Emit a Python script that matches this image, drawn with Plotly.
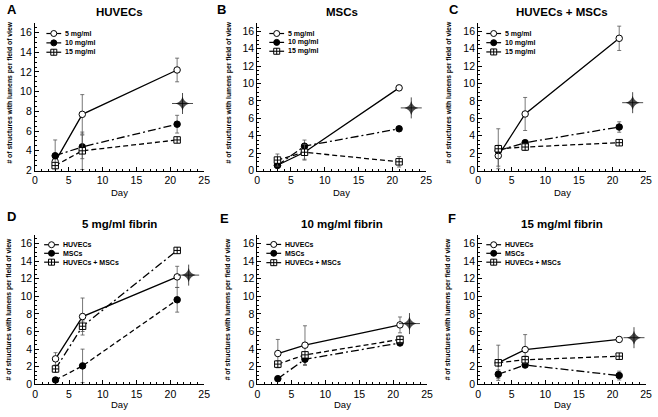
import plotly.graph_objects as go

# ---------------- data ----------------
days = [3, 7, 21]

# Panel A: HUVECs
a_5 = [2.9, 7.7, 12.2]; a_5_err = [0.5, 2.0, 1.2]
a_10 = [3.5, 4.4, 6.7]; a_10_err = [1.6, 1.2, 0.9]
a_15 = [2.5, 4.0, 5.1]; a_15_err = [0.3, 1.9, 0.2]
# Panel B: MSCs
b_5 = [0.6, 2.1, 9.5]; b_5_err = [0.2, 0.8, 0.3]
b_10 = [0.6, 2.8, 4.8]; b_10_err = [0.2, 0.7, 0.2]
b_15 = [1.2, 2.1, 1.0]; b_15_err = [0.7, 0.9, 0.6]
# Panel C: HUVECs + MSCs
c_5 = [1.7, 6.5, 15.2]; c_5_err = [1.2, 1.9, 1.4]
c_10 = [2.3, 3.2, 5.0]; c_10_err = [0.3, 0.3, 0.6]
c_15 = [2.5, 2.7, 3.2]; c_15_err = [2.3, 0.4, 0.2]
# Panel D: 5 mg/ml fibrin
d_h = [2.9, 7.7, 12.2]; d_h_err = [0.7, 2.1, 1.2]
d_m = [0.5, 2.1, 9.6]; d_m_err = [0.1, 1.9, 1.4]
d_hm = [1.75, 6.6, 15.2]; d_hm_err = [0.4, 0.6, 0.3]
# Panel E: 10 mg/ml fibrin
e_h = [3.5, 4.45, 6.75]; e_h_err = [1.6, 2.2, 0.9]
e_m = [0.65, 2.85, 4.7]; e_m_err = [0.1, 0.7, 0.3]
e_hm = [2.3, 3.35, 5.1]; e_hm_err = [0.4, 0.3, 0.4]
# Panel F: 15 mg/ml fibrin
f_h = [2.45, 3.95, 5.1]; f_h_err = [2.0, 1.7, 0.15]
f_m = [1.15, 2.2, 1.0]; f_m_err = [0.5, 0.3, 0.5]
f_hm = [2.45, 2.8, 3.2]; f_hm_err = [0.3, 0.4, 0.3]

# significance stars (x, y) per panel
star_x = [21.8, 22.8, 23.0, 22.7, 22.4, 23.2]
star_y = [8.8, 7.2, 7.8, 12.4, 6.9, 5.3]

conc_names = ["5 mg/ml", "10 mg/ml", "15 mg/ml"]
cell_names = ["HUVECs", "MSCs", "HUVECs + MSCs"]
panel_letters = ["A", "B", "C", "D", "E", "F"]
panel_titles = ["HUVECs", "MSCs", "HUVECs + MSCs",
                "5 mg/ml fibrin", "10 mg/ml fibrin", "15 mg/ml fibrin"]
y_title = "# of structures with lumens per field of view"
x_title = "Day"
x_ticks = [0, 5, 10, 15, 20, 25]

# ---------------- layout helpers ----------------
W, H = 658, 417
FONT = "Liberation Sans, Arial, sans-serif"
DASH = "5px,3px"
DASHDOT = "8px,3px,2px,3px"

panels = [
    dict(series=[(a_5, a_5_err), (a_10, a_10_err), (a_15, a_15_err)], names=conc_names,
         dashes=["solid", DASHDOT, DASH], x0=32.3, x1=204, top=23, bot=173, ymin=2),
    dict(series=[(b_5, b_5_err), (b_10, b_10_err), (b_15, b_15_err)], names=conc_names,
         dashes=["solid", DASHDOT, DASH], x0=257.7, x1=429, top=23, bot=173, ymin=0),
    dict(series=[(c_5, c_5_err), (c_10, c_10_err), (c_15, c_15_err)], names=conc_names,
         dashes=["solid", DASHDOT, DASH], x0=481.7, x1=652, top=23, bot=173, ymin=0),
    dict(series=[(d_h, d_h_err), (d_m, d_m_err), (d_hm, d_hm_err)], names=cell_names,
         dashes=["solid", DASH, DASHDOT], x0=32.7, x1=204, top=238, bot=390, ymin=0),
    dict(series=[(e_h, e_h_err), (e_m, e_m_err), (e_hm, e_hm_err)], names=cell_names,
         dashes=["solid", DASHDOT, DASH], x0=258, x1=430, top=238, bot=390, ymin=0),
    dict(series=[(f_h, f_h_err), (f_m, f_m_err), (f_hm, f_hm_err)], names=cell_names,
         dashes=["solid", DASHDOT, DASH], x0=481.7, x1=652, top=238, bot=390, ymin=0),
]
# marker: (symbol, fill colour)
marker_styles = [("circle", "white"), ("circle", "black"), ("square-cross", "white")]

letter_pos = [(9, 10), (222, 10), (457, 10), (9, 220), (225, 222), (455, 222)]
ytitle_x = [7, 229, 452, 7, 229, 452]
ytitle_cy = [94, 94, 94, 314, 314, 314]
legend_off = [11.7, 12.3, 8.3, 9, 9, 8.3]
legend_rows = [[34, 43.5, 53], [34, 43, 52], [34, 43.3, 52.7],
               [248.3, 257, 266], [248, 257, 266.5], [248.3, 257, 266]]
day_y = [195, 195, 195, 410, 410, 410]

def px(x):
    return x / W

def py(y):
    return 1 - y / H

fig = go.Figure()
layout = dict(width=W, height=H, margin=dict(l=0, r=0, t=0, b=0),
              plot_bgcolor="white", paper_bgcolor="white",
              font=dict(family=FONT, color="black"), showlegend=False)
annotations = []
shapes = []

def legend_marker(j, ax, ay):
    base = dict(xref="paper", yref="paper", xsizemode="pixel", ysizemode="pixel",
                xanchor=px(ax), yanchor=py(ay), line=dict(color="black", width=1))
    if j == 0:
        shapes.append(dict(type="circle", x0=-3, x1=3, y0=-3, y1=3, fillcolor="white", **base))
    elif j == 1:
        shapes.append(dict(type="circle", x0=-3, x1=3, y0=-3, y1=3, fillcolor="black", **base))
    else:
        shapes.append(dict(type="rect", x0=-3, x1=3, y0=-3, y1=3, fillcolor="white", **base))
        shapes.append(dict(type="line", x0=-3, x1=3, y0=0, y1=0, **base))
        shapes.append(dict(type="line", x0=0, x1=0, y0=-3, y1=3, **base))

for i, p in enumerate(panels):
    k = i + 1
    xa = "x" if k == 1 else f"x{k}"
    ya = "y" if k == 1 else f"y{k}"
    for j, ((vals, errs), name, dash) in enumerate(zip(p["series"], p["names"], p["dashes"])):
        sym, fillc = marker_styles[j]
        fig.add_trace(go.Scatter(
            x=days, y=vals, name=name, mode="lines+markers",
            xaxis=xa, yaxis=ya, cliponaxis=False,
            line=dict(color="black", width=1.3, dash=dash),
            marker=dict(symbol=sym, size=6.5, color=fillc,
                        line=dict(color="black", width=1)),
            error_y=dict(type="data", array=errs, visible=True,
                         color="#555", thickness=0.8, width=2),
        ))
    fig.add_trace(go.Scatter(
        x=[star_x[i], star_x[i]], y=[star_y[i], star_y[i]], mode="markers",
        xaxis=xa, yaxis=ya, cliponaxis=False,
        marker=dict(symbol=["cross-thin-open", "star-diamond"], size=[15, 10],
                    color="black", line=dict(color="black", width=[1.0, 0])),
    ))
    axkey_x = "xaxis" if k == 1 else f"xaxis{k}"
    axkey_y = "yaxis" if k == 1 else f"yaxis{k}"
    layout[axkey_x] = dict(
        domain=[p["x0"] / W, p["x1"] / W], anchor=ya, range=[0, 25],
        tickvals=x_ticks, showline=True, linecolor="black", linewidth=1,
        ticks="inside", ticklen=4, tickcolor="black", showgrid=False, zeroline=False,
        tickfont=dict(size=10.5, color="black"),
        minor=dict(ticks="inside", ticklen=2, dtick=1, tickcolor="black", showgrid=False))
    layout[axkey_y] = dict(
        domain=[1 - p["bot"] / H, 1 - p["top"] / H], anchor=xa,
        range=[p["ymin"], 17], tickmode="linear", tick0=p["ymin"], dtick=2,
        showline=True, linecolor="black", linewidth=1,
        ticks="inside", ticklen=4, tickcolor="black", showgrid=False, zeroline=False,
        tickfont=dict(size=10.5, color="black"),
        minor=dict(ticks="inside", ticklen=2, dtick=0.5, tickcolor="black", showgrid=False))
    # manual compact legend
    lx0 = p["x0"] + legend_off[i]
    for j, name in enumerate(p["names"]):
        ly = legend_rows[i][j]
        shapes.append(dict(type="line", xref="paper", yref="paper",
                           x0=px(lx0), x1=px(lx0 + 15), y0=py(ly), y1=py(ly),
                           line=dict(color="black", width=1.2)))
        legend_marker(j, lx0 + 7.5, ly)
        annotations.append(dict(text=f"<b>{name}</b>", x=px(lx0 + 17), y=py(ly),
                                xref="paper", yref="paper", showarrow=False,
                                font=dict(size=7, color="black"),
                                xanchor="left", yanchor="middle"))
    cx = (p["x0"] + p["x1"]) / 2
    # panel title
    annotations.append(dict(text=f"<b>{panel_titles[i]}</b>", x=px(cx), y=py(p["top"] - 11),
                            xref="paper", yref="paper", showarrow=False,
                            font=dict(size=11.5, color="black"),
                            xanchor="center", yanchor="middle"))
    # panel letter
    lx, ly = letter_pos[i]
    annotations.append(dict(text=f"<b>{panel_letters[i]}</b>", x=px(lx), y=py(ly),
                            xref="paper", yref="paper", showarrow=False,
                            font=dict(size=13, color="black"),
                            xanchor="center", yanchor="middle"))
    # x title
    annotations.append(dict(text=x_title, x=px(cx), y=py(day_y[i]),
                            xref="paper", yref="paper", showarrow=False,
                            font=dict(size=9.5, color="black"),
                            xanchor="center", yanchor="middle"))
    # y title
    annotations.append(dict(text=f"<b>{y_title}</b>", x=px(ytitle_x[i]), y=py(ytitle_cy[i]),
                            xref="paper", yref="paper", showarrow=False, textangle=-90,
                            font=dict(size=6.8, color="black"),
                            xanchor="center", yanchor="middle"))

layout["annotations"] = annotations
layout["shapes"] = shapes
fig.update_layout(**layout)
fig.write_html("out.html", config={"displayModeBar": False},
               post_script="document.body.style.margin='0';document.body.style.overflow='hidden';")
